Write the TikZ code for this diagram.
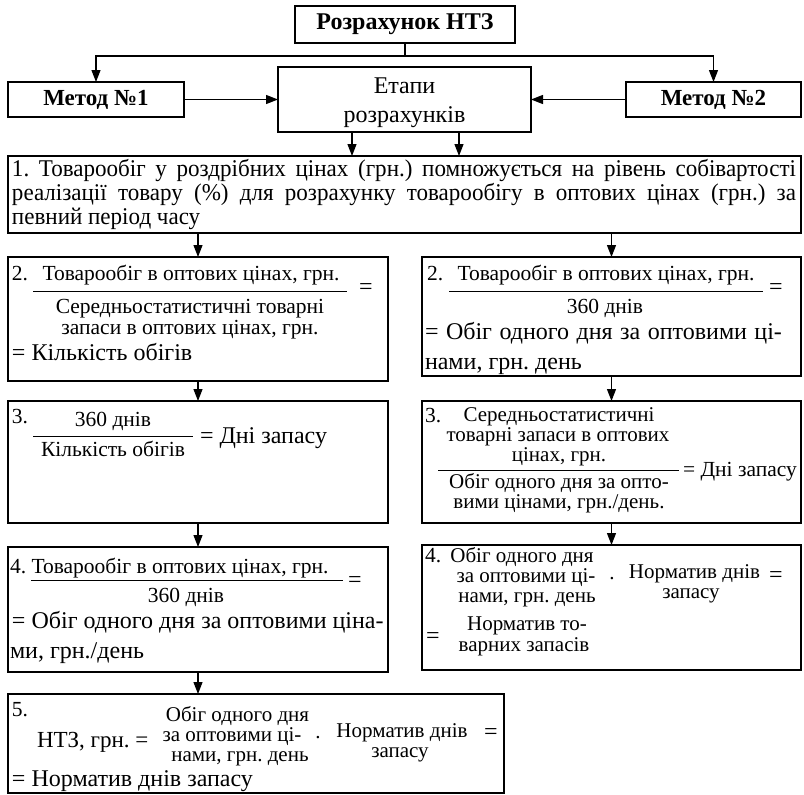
\documentclass[tikz,border=0pt]{standalone}
\usepackage{fontspec}
\setmainfont{Liberation Serif}
\newfontfamily\widefont{Liberation Serif}[FakeStretch=0.96]
\usetikzlibrary{arrows.meta}
\frenchspacing

\begin{document}
\begin{tikzpicture}[x=1pt,y=-1pt,
  frame/.style={draw, line width=1.3pt, inner sep=0pt, outer sep=0pt},
  arr/.style={line width=1.2pt, -{Triangle[length=12pt,width=9pt]}},
  bar/.style={line width=0.9pt},
  tx/.style={inner sep=0pt, outer sep=0pt},
  textL/.style={tx, font=\fontsize{24}{24}\selectfont},
  textM/.style={tx, font=\fontsize{21.5}{21.5}\selectfont},
  textS/.style={tx, font=\fontsize{21}{21}\selectfont},
  textH/.style={tx, font=\fontsize{23}{23}\selectfont},
]
\useasboundingbox (0,0) rectangle (804,795);

% --- header ---
\node[frame, minimum width=220pt, minimum height=37pt,
      font=\fontsize{24}{24}\selectfont\bfseries] (top) at (405,24.5) {Розрахунок НТЗ};
\node[frame, minimum width=176pt, minimum height=35pt,
      font=\fontsize{23}{23}\selectfont\bfseries] (m1) at (96,99.5) {Метод №1};
\node[frame, minimum width=175pt, minimum height=35pt,
      font=\fontsize{23}{23}\selectfont\bfseries] (m2) at (713.5,99.5) {Метод №2};
\node[frame, minimum width=253pt, minimum height=65pt] (etapy) at (404.5,99.5) {};
\node[textL, anchor=base] (et1) at (404.5,93) {Етапи};
\node[textL, anchor=base] (et2) at (404.5,122) {розрахунків};

% --- boxes ---
\node[frame, minimum width=793pt, minimum height=77pt] (b1) at (404.5,194.5) {};
\node[frame, minimum width=380pt, minimum height=124pt] (l2) at (198,319) {};
\node[frame, minimum width=379pt, minimum height=119pt] (r2) at (611.5,316.5) {};
\node[frame, minimum width=380pt, minimum height=122pt] (l3) at (198,462) {};
\node[frame, minimum width=379pt, minimum height=122pt] (r3) at (611.5,462) {};
\node[frame, minimum width=380pt, minimum height=125pt] (l4) at (198,609.5) {};
\node[frame, minimum width=379pt, minimum height=125pt] (r4) at (611.5,607.5) {};
\node[frame, minimum width=496pt, minimum height=99pt] (l5) at (256,743.5) {};

% --- connectors ---
\coordinate (split) at (405,56);
\draw[line width=1.2pt] (top.south) -- (split);
\draw[arr] (split) -| (m1.north);
\draw[arr] (split) -| (m2.north);
\draw[arr] (m1.east) -- (etapy.west |- m1.east);
\draw[arr] (m2.west) -- (etapy.east |- m2.west);
\coordinate (ea) at (352,0);
\coordinate (eb) at (459,0);
\draw[arr] (etapy.south -| ea) -- (b1.north -| ea);
\draw[arr] (etapy.south -| eb) -- (b1.north -| eb);
\draw[arr] (b1.south -| l2.north) -- (l2.north);
\draw[arr] (b1.south -| r2.north) -- (r2.north);
\draw[arr] (l2.south) -- (l3.north);
\draw[arr] (l3.south) -- (l4.north);
\draw[arr] (l4.south) -- (l4.south |- l5.north);
\draw[arr] (r2.south) -- (r3.north);
\draw[arr] (r3.south) -- (r4.north);

% --- step 1 ---
\node[textL, anchor=base west, font=\fontsize{24}{24}\widefont] (s1a) at (12,176)
  {\makebox[784pt][s]{1. Товарообіг у роздрібних цінах (грн.) помножується на рівень собівартості}};
\node[textL, anchor=base west, font=\fontsize{24}{24}\widefont] (s1b) at (12,200)
  {\makebox[784pt][s]{реалізації товару (\%) для розрахунку товарообігу в оптових цінах (грн.) за}};
\node[textL, anchor=base west, font=\fontsize{24}{24}\widefont] (s1c) at (12,224) {певний період часу};

% --- method 1, step 2 ---
\node[textM, anchor=base west] at (12,280) {2.};
\node[textM, anchor=base] at (191,280) {Товарообіг в оптових цінах, грн.};
\draw[bar] (33,291) -- (347,291);
\node[textL] at (366,289) {=};
\node[textM, anchor=base] at (190,313) {Середньостатистичні товарні};
\node[textM, anchor=base] at (190,334) {запаси в оптових цінах, грн.};
\node[textL, anchor=base west] at (12,360) {= Кількість обігів};

% --- method 1, step 3 ---
\node[textM, anchor=base west] at (12,423) {3.};
\node[textM, anchor=base] at (113,426) {360 днів};
\draw[bar] (33,436) -- (193,436);
\node[textM, anchor=base] at (113,456) {Кількість обігів};
\node[textL, anchor=base west] at (200,443) {= Дні запасу};

% --- method 1, step 4 ---
\node[textM, anchor=base west] at (10,573) {4.};
\node[textM, anchor=base] at (180,573) {Товарообіг в оптових цінах, грн.};
\draw[bar] (31,580) -- (343,580);
\node[textL] at (355,582) {=};
\node[textM, anchor=base] at (186,602) {360 днів};
\node[textL, anchor=base west] at (12,628) {= Обіг одного дня за оптовими ціна-};
\node[textL, anchor=base west] at (10,658) {ми, грн./день};

% --- method 1, step 5 ---
\node[textM, anchor=base west] at (12,716) {5.};
\node[textH, anchor=base west] at (37,747) {НТЗ, грн. =};
\node[textS, anchor=base] at (237.5,721) {Обіг одного дня};
\node[textS, anchor=base] at (232,741) {за оптовими ці-};
\node[textS, anchor=base] at (240,761) {нами, грн. день};
\node[textS, anchor=base] at (318,738) {.};
\node[textS, anchor=base] at (402,737) {Норматив днів};
\node[textS, anchor=base] at (400,757) {запасу};
\node[textL] at (491,734) {=};
\node[textL, anchor=base west] at (12,786) {= Норматив днів запасу};

% --- method 2, step 2 ---
\node[textM, anchor=base west] at (427,280) {2.};
\node[textM, anchor=base] at (606,280) {Товарообіг в оптових цінах, грн.};
\draw[bar] (449,291) -- (763,291);
\node[textL] at (776,289) {=};
\node[textM, anchor=base] at (605,313) {360 днів};
\node[textL, anchor=base west] at (425,339) {\makebox[357pt][s]{= Обіг одного дня за оптовими ці-}};
\node[textL, anchor=base west] at (425,369) {нами, грн. день};

% --- method 2, step 3 ---
\node[textM, anchor=base west] at (425,422) {3.};
\node[textS, anchor=base] at (559,421) {Середньостатистичні};
\node[textS, anchor=base] at (558,441) {товарні запаси в оптових};
\node[textS, anchor=base] at (559,461) {цінах, грн.};
\draw[bar] (438,470) -- (679,470);
\node[textS, anchor=base] at (559,488) {Обіг одного дня за опто-};
\node[textS, anchor=base] at (559,508) {вими цінами, грн./день.};
\node[textM, anchor=base west] at (683,476) {= Дні запасу};

% --- method 2, step 4 ---
\node[textM, anchor=base west] at (425,562) {4.};
\node[textS, anchor=base] at (522,562) {Обіг одного дня};
\node[textS, anchor=base] at (526,582) {за оптовими ці-};
\node[textS, anchor=base] at (527,602) {нами, грн. день};
\node[textS, anchor=base] at (612,579) {.};
\node[textS, anchor=base] at (694.5,578) {Норматив днів};
\node[textS, anchor=base] at (691,598) {запасу};
\node[textL] at (776,577) {=};
\node[textL] at (433,638) {=};
\node[textS, anchor=base] at (527,630) {Норматив то-};
\node[textS, anchor=base] at (524,651) {варних запасів};
\end{tikzpicture}
\end{document}
